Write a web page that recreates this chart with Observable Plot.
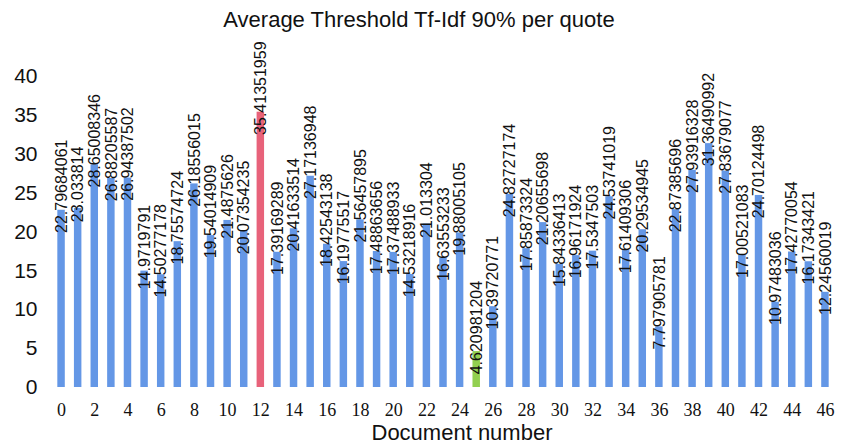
<!DOCTYPE html>
<html>
<head>
<meta charset="utf-8">
<script src="https://cdn.jsdelivr.net/npm/d3@7"></script>
<script src="https://cdn.jsdelivr.net/npm/@observablehq/plot@0.6"></script>
<style>
  html, body { margin: 0; padding: 0; background: #fff; }
  #wrap { width: 842px; height: 447px; overflow: hidden; }
  .title {
    box-sizing: border-box; width: 842px; height: 32px; padding: 7px 4px 0 0;
    line-height: 26px; text-align: center; white-space: nowrap;
    font: 22px "Liberation Sans", Arial, sans-serif; color: #111;
  }
  .xtitle {
    box-sizing: border-box; width: 842px; height: 27px; padding-left: 82px;
    line-height: 29px; text-align: center; white-space: nowrap;
    font: 22px "Liberation Sans", Arial, sans-serif; color: #111;
  }
  svg { display: block; }
</style>
</head>
<body>
<div id="wrap">
  <div class="title">Average Threshold Tf-Idf 90% per quote</div>
  <div id="chart"></div>
  <div class="xtitle">Document number</div>
</div>
<script>
// Document numbers (categories)
const docs = [0, 1, 2, 3, 4, 5, 6, 7, 8, 9, 10, 11, 12, 13, 14, 15, 16, 17, 18, 19,
  20, 21, 22, 23, 24, 25, 26, 27, 28, 29, 30, 31, 32, 33, 34, 35, 36, 37, 38, 39,
  40, 41, 42, 43, 44, 45, 46];

// Average threshold Tf-Idf (90%) for each document
const thresholds = [
  22.79684061, 23.033814, 28.65008346, 26.88205587, 26.94387502,
  14.9719791, 14.50277178, 18.75574724, 26.18556015, 19.54014909,
  21.4875626, 20.07354235, 35.41351959, 17.39169289, 20.41633514,
  27.17136948, 18.42543138, 16.19775517, 21.56457895, 17.48863656,
  17.37488933, 14.53218916, 21.013304, 16.63553233, 19.88005105,
  4.620981204, 10.39720771, 24.82727174, 17.85873324, 21.20655698,
  15.84336413, 16.96171924, 17.5347503, 24.53741019, 17.61409306,
  20.29534945, 7.797905781, 22.87385696, 27.93916328, 31.36490992,
  27.83679077, 17.00521083, 24.70124498, 10.97483036, 17.42770054,
  16.17343421, 12.24560019
];

// Axis tick values
const xTicks = [0, 2, 4, 6, 8, 10, 12, 14, 16, 18, 20, 22, 24, 26, 28, 30, 32, 34, 36, 38, 40, 42, 44, 46];
const yTicks = [0, 5, 10, 15, 20, 25, 30, 35, 40];

// Bar colours: ordinary, highest and lowest document
const colorNormal = "#6497E6";
const colorMax = "#E8627A";
const colorMin = "#92D050";

const rows = docs.map((doc, i) => ({doc, value: thresholds[i]}));
const maxValue = d3.max(thresholds);
const minValue = d3.min(thresholds);

const sans = "'Liberation Sans', Arial, sans-serif";
const serif = "'Liberation Serif', 'Times New Roman', serif";

const chart = Plot.plot({
  width: 842,
  height: 388,
  marginTop: 44,
  marginBottom: 33,
  marginLeft: 54,
  marginRight: 10,
  style: {background: "#fff", overflow: "visible"},
  x: {type: "band", domain: docs, paddingInner: 0.55, paddingOuter: 0.2, round: false},
  y: {domain: [0, 40]},
  marks: [
    Plot.barY(rows.filter(d => d.value !== maxValue && d.value !== minValue),
      {x: "doc", y: "value", fill: colorNormal}),
    Plot.barY(rows.filter(d => d.value === maxValue),
      {x: "doc", y: "value", fill: colorMax}),
    Plot.barY(rows.filter(d => d.value === minValue),
      {x: "doc", y: "value", fill: colorMin}),
    Plot.text(rows, {
      x: "doc", y: "value", text: d => String(d.value),
      rotate: -90, dy: -24, fontSize: 16, fontFamily: sans, fill: "#111"
    }),
    Plot.axisX({
      ticks: xTicks, tickSize: 0, tickPadding: 16, label: null,
      fontSize: 18, fontFamily: serif, color: "#111"
    }),
    Plot.axisY({
      ticks: yTicks, tickSize: 0, tickPadding: 17, label: null,
      fontSize: 21, fontFamily: sans, color: "#111"
    })
  ]
});

document.getElementById("chart").appendChild(chart);
</script>
</body>
</html>
